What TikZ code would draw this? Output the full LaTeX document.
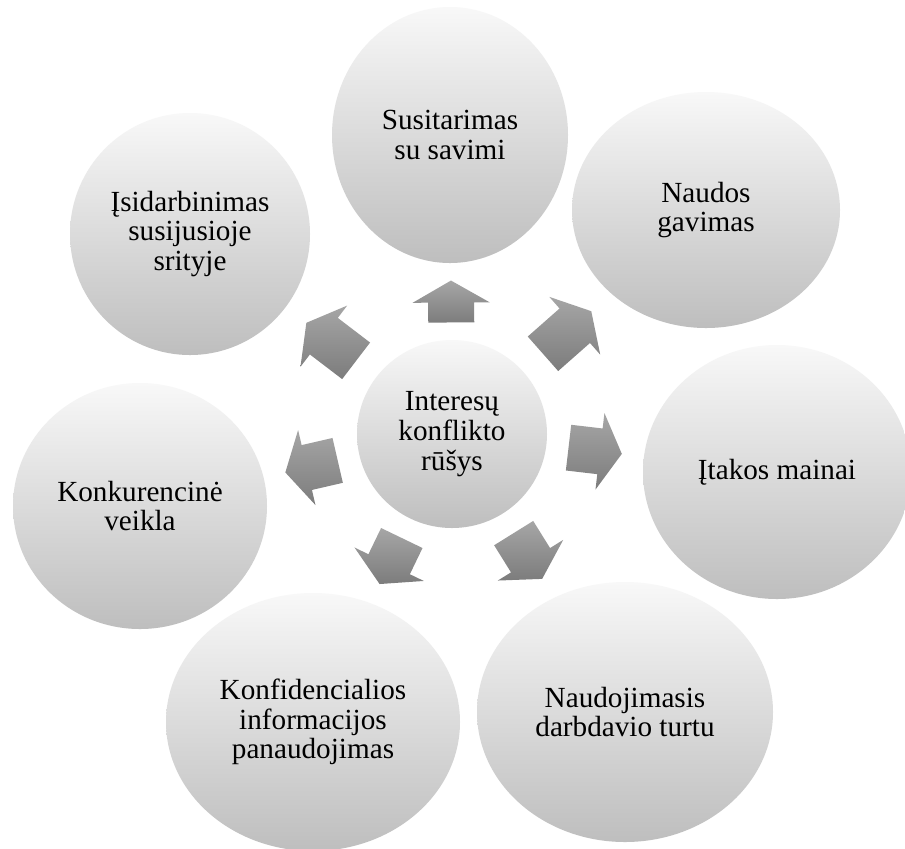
\documentclass[tikz,border=0pt]{standalone}
\usepackage{fontspec}
\setmainfont{Liberation Serif}
\newfontfamily\bubblefont{Liberation Serif}
\usetikzlibrary{shapes.geometric,calc}
\definecolor{bubtop}{HTML}{F8F8F8}
\definecolor{bubmid}{HTML}{E4E4E4}
\definecolor{bubbot}{HTML}{BEBEBE}
\definecolor{arrtop}{HTML}{A6A6A6}
\definecolor{arrbot}{HTML}{7C7C7C}
% block arrow from the hub towards a satellite, centred in the gap between them
\newcommand\radarrow[2]{%
  \path (#1) -- (#2) coordinate[pos=0.225] (#2-p) coordinate[pos=0.775] (#2-q);
  \coordinate (#2-h) at ($(#2-q)!11pt!(#2-p)$);
  \shade[arrowshade]
    ($(#2-p)!11.5pt!90:(#2-q)$) -- ($(#2-h)!11.5pt!90:(#2-q)$) --
    ($(#2-h)!19.25pt!90:(#2-q)$) -- (#2-q) --
    ($(#2-h)!19.25pt!-90:(#2-q)$) -- ($(#2-h)!11.5pt!-90:(#2-q)$) --
    ($(#2-p)!11.5pt!-90:(#2-q)$) -- cycle;
}
\begin{document}
\begin{tikzpicture}[x=0.5pt,y=-0.5pt,
  bubble/.style={ellipse, inner sep=0pt, align=center,
    font=\bubblefont\fontsize{14.6}{14.9}\selectfont,
    top color=bubtop, middle color=bubmid, bottom color=bubbot},
  % full width and height of a bubble, in pixels of the 905x848 frame
  dims/.style 2 args={minimum width=#1*0.5pt, minimum height=#2*0.5pt},
  arrowshade/.style={top color=arrtop, bottom color=arrbot}]
\fill[white] (0,0) rectangle (905,848);
\useasboundingbox (0,0) rectangle (905,848);

\node[bubble, dims={190}{188}] (hub) at (452,434) {Interesų\\konflikto\\rūšys};

\node[bubble, dims={236}{256}] (sus) at (450,135) {Susitarimas\\su savimi};
\node[bubble, dims={268}{236}] (nau) at (706,210) {Naudos\\gavimas};
\node[bubble, dims={268}{254}] (itk) at (777,472) {Įtakos mainai};
\node[bubble, dims={296}{260}] (ndj) at (625,712) {Naudojimasis\\darbdavio turtu};
\node[bubble, dims={294}{258}] (knf) at (313,722) {Konfidencialios\\informacijos\\panaudojimas};
\node[bubble, dims={254}{246}] (knk) at (140,506) {Konkurencinė\\veikla};
\node[bubble, dims={240}{242}] (isd) at (190,234) {Įsidarbinimas\\susijusioje\\srityje};

\radarrow{hub}{sus}
\radarrow{hub}{nau}
\radarrow{hub}{itk}
\radarrow{hub}{ndj}
\radarrow{hub}{knf}
\radarrow{hub}{knk}
\radarrow{hub}{isd}
\end{tikzpicture}
\end{document}
